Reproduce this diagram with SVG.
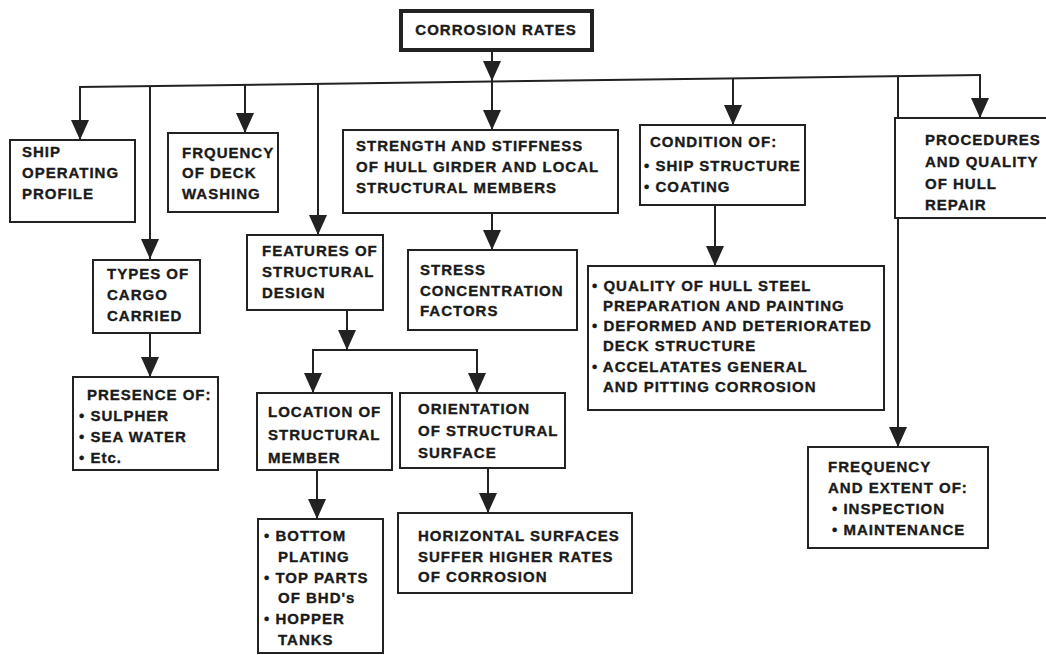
<svg xmlns="http://www.w3.org/2000/svg" width="1046" height="655" viewBox="0 0 1046 655">
<style>
.box{fill:#fff;stroke:#222;stroke-width:2}
.title{fill:#fff;stroke:#222;stroke-width:4}
.t{font-family:"Liberation Sans",Arial,sans-serif;font-weight:bold;font-size:15px;letter-spacing:1px;fill:#1a1a1a;stroke:#1a1a1a;stroke-width:0.35px}
.c{fill:none;stroke:#222;stroke-width:2}
</style>
<defs>
<marker id="ah" markerUnits="userSpaceOnUse" markerWidth="21" markerHeight="18" refX="20" refY="9" orient="auto" viewBox="0 0 21 18">
<path d="M0,0 L20,9 L0,18 Z" fill="#222"/>
</marker>
</defs>
<rect width="1046" height="655" fill="#fff"/>
<g id="connectors">
<line class="c" x1="492" y1="50" x2="492" y2="81" marker-end="url(#ah)"/>
<line class="c" x1="79" y1="87" x2="980" y2="75"/>
<line class="c" x1="80" y1="86" x2="80" y2="140" marker-end="url(#ah)"/>
<line class="c" x1="150" y1="86" x2="150" y2="259" marker-end="url(#ah)"/>
<line class="c" x1="245" y1="85" x2="245" y2="133" marker-end="url(#ah)"/>
<line class="c" x1="318" y1="84" x2="318" y2="235" marker-end="url(#ah)"/>
<line class="c" x1="492" y1="81" x2="492" y2="130" marker-end="url(#ah)"/>
<line class="c" x1="733" y1="78" x2="733" y2="125" marker-end="url(#ah)"/>
<line class="c" x1="898" y1="76" x2="898" y2="447" marker-end="url(#ah)"/>
<line class="c" x1="980" y1="74" x2="980" y2="118" marker-end="url(#ah)"/>
<line class="c" x1="150" y1="333" x2="150" y2="377" marker-end="url(#ah)"/>
<line class="c" x1="492" y1="213" x2="492" y2="250" marker-end="url(#ah)"/>
<line class="c" x1="347" y1="310" x2="347" y2="350" marker-end="url(#ah)"/>
<line class="c" x1="312" y1="350" x2="478" y2="350"/>
<line class="c" x1="313" y1="349" x2="313" y2="393" marker-end="url(#ah)"/>
<line class="c" x1="477" y1="349" x2="477" y2="393" marker-end="url(#ah)"/>
<line class="c" x1="317" y1="470" x2="317" y2="519" marker-end="url(#ah)"/>
<line class="c" x1="488" y1="468" x2="488" y2="513" marker-end="url(#ah)"/>
<line class="c" x1="715" y1="205" x2="715" y2="266" marker-end="url(#ah)"/>
</g>
<g id="n-title">
<rect class="title" x="401" y="11" width="191" height="39"/>
<text class="t" x="496" y="35" text-anchor="middle">CORROSION RATES</text>
</g>
<g id="n-ship">
<rect class="box" x="10" y="140" width="125" height="82"/>
<text class="t" x="22" y="157">SHIP</text>
<text class="t" x="22" y="178">OPERATING</text>
<text class="t" x="22" y="199">PROFILE</text>
</g>
<g id="n-deck">
<rect class="box" x="168" y="133" width="110" height="79"/>
<text class="t" x="182" y="158">FRQUENCY</text>
<text class="t" x="182" y="178">OF DECK</text>
<text class="t" x="182" y="199">WASHING</text>
</g>
<g id="n-strength">
<rect class="box" x="343" y="130" width="275" height="83"/>
<text class="t" x="356" y="151">STRENGTH AND STIFFNESS</text>
<text class="t" x="356" y="172">OF HULL GIRDER AND LOCAL</text>
<text class="t" x="356" y="193">STRUCTURAL MEMBERS</text>
</g>
<g id="n-condition">
<rect class="box" x="640" y="125" width="165" height="80"/>
<text class="t" x="650" y="147">CONDITION OF:</text>
<text class="t" x="644" y="171">• SHIP STRUCTURE</text>
<text class="t" x="644" y="192">• COATING</text>
</g>
<g id="n-procedures">
<rect class="box" x="895" y="118" width="160" height="100"/>
<text class="t" x="925" y="145">PROCEDURES</text>
<text class="t" x="925" y="167">AND QUALITY</text>
<text class="t" x="925" y="189">OF HULL</text>
<text class="t" x="925" y="210">REPAIR</text>
</g>
<g id="n-cargo">
<rect class="box" x="93" y="260" width="107" height="73"/>
<text class="t" x="107" y="279">TYPES OF</text>
<text class="t" x="107" y="300">CARGO</text>
<text class="t" x="107" y="321">CARRIED</text>
</g>
<g id="n-presence">
<rect class="box" x="73" y="377" width="145" height="93"/>
<text class="t" x="87" y="400">PRESENCE OF:</text>
<text class="t" x="79" y="421">• SULPHER</text>
<text class="t" x="79" y="442">• SEA WATER</text>
<text class="t" x="79" y="463">• Etc.</text>
</g>
<g id="n-features">
<rect class="box" x="247" y="235" width="136" height="75"/>
<text class="t" x="262" y="256">FEATURES OF</text>
<text class="t" x="262" y="277">STRUCTURAL</text>
<text class="t" x="262" y="298">DESIGN</text>
</g>
<g id="n-stress">
<rect class="box" x="408" y="250" width="169" height="80"/>
<text class="t" x="420" y="275">STRESS</text>
<text class="t" x="420" y="296">CONCENTRATION</text>
<text class="t" x="420" y="316">FACTORS</text>
</g>
<g id="n-location">
<rect class="box" x="257" y="393" width="135" height="77"/>
<text class="t" x="268" y="417">LOCATION OF</text>
<text class="t" x="268" y="440">STRUCTURAL</text>
<text class="t" x="268" y="463">MEMBER</text>
</g>
<g id="n-orientation">
<rect class="box" x="400" y="393" width="165" height="75"/>
<text class="t" x="418" y="414">ORIENTATION</text>
<text class="t" x="418" y="436">OF STRUCTURAL</text>
<text class="t" x="418" y="458">SURFACE</text>
</g>
<g id="n-bottom">
<rect class="box" x="258" y="519" width="125" height="134"/>
<text class="t" x="264" y="541">• BOTTOM</text>
<text class="t" x="278" y="562">PLATING</text>
<text class="t" x="264" y="583">• TOP PARTS</text>
<text class="t" x="278" y="603">OF BHD's</text>
<text class="t" x="264" y="624">• HOPPER</text>
<text class="t" x="278" y="645">TANKS</text>
</g>
<g id="n-horizontal">
<rect class="box" x="398" y="513" width="234" height="80"/>
<text class="t" x="418" y="541">HORIZONTAL SURFACES</text>
<text class="t" x="418" y="562">SUFFER HIGHER RATES</text>
<text class="t" x="418" y="582">OF CORROSION</text>
</g>
<g id="n-quality">
<rect class="box" x="588" y="266" width="296" height="144"/>
<text class="t" x="592" y="291">• QUALITY OF HULL STEEL</text>
<text class="t" x="603" y="311">PREPARATION AND PAINTING</text>
<text class="t" x="592" y="331">• DEFORMED AND DETERIORATED</text>
<text class="t" x="603" y="351">DECK STRUCTURE</text>
<text class="t" x="592" y="372">• ACCELATATES GENERAL</text>
<text class="t" x="603" y="392">AND PITTING CORROSION</text>
</g>
<g id="n-frequency">
<rect class="box" x="808" y="447" width="180" height="101"/>
<text class="t" x="828" y="472">FREQUENCY</text>
<text class="t" x="828" y="493">AND EXTENT OF:</text>
<text class="t" x="832" y="514">• INSPECTION</text>
<text class="t" x="832" y="535">• MAINTENANCE</text>
</g>
</svg>
